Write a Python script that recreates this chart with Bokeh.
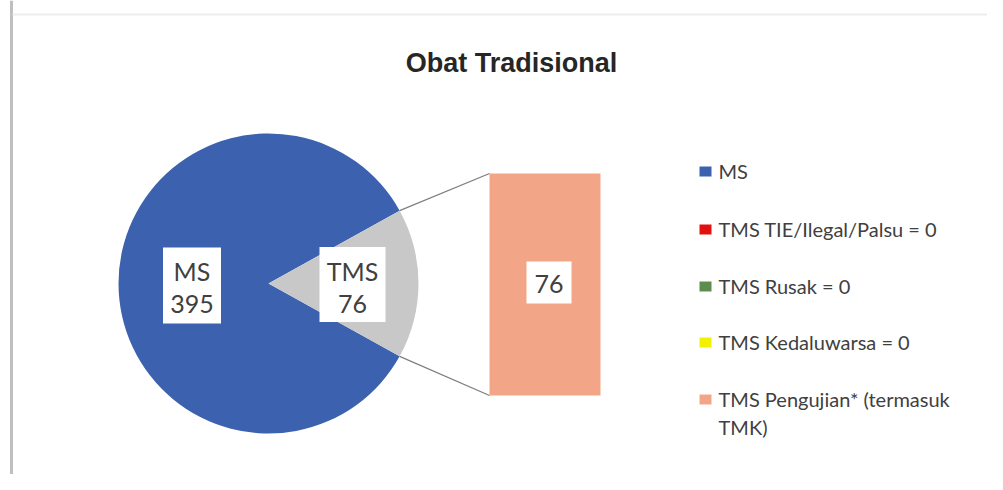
import math
from bokeh.plotting import figure
from bokeh.models import Range1d
from bokeh.core.properties import value
from bokeh.embed import file_html
from bokeh.resources import INLINE

# ---- data ----
title_text = "Obat Tradisional"
pie_labels = ["MS", "TMS"]
pie_values = [395, 76]
bar_labels = ["TMS TIE/Ilegal/Palsu", "TMS Rusak", "TMS Kedaluwarsa", "TMS Pengujian* (termasuk TMK)"]
bar_values = [0, 0, 0, 76]
legend_labels = ["MS", "TMS TIE/Ilegal/Palsu = 0", "TMS Rusak = 0", "TMS Kedaluwarsa = 0",
                 "TMS Pengujian* (termasuk\nTMK)"]

# ---- style ----
BLUE = "#3C62AF"
GREY = "#C8C8C8"
RED = "#E31010"
GREEN = "#5E8C4E"
YELLOW = "#F2F200"
SALMON = "#F2A687"
pie_colors = [BLUE, GREY]
bar_colors = [RED, GREEN, YELLOW, SALMON]
legend_colors = [BLUE, RED, GREEN, YELLOW, SALMON]
FONT = value("Lato")
TXT = "#404040"

W, H = 987, 474
p = figure(width=W, height=H, x_range=Range1d(0, W), y_range=Range1d(H, 0),
           output_backend="svg", toolbar_location=None, min_border=0,
           x_axis_location=None, y_axis_location=None)
p.grid.visible = False
p.outline_line_color = None
p.background_fill_color = "white"
p.border_fill_color = "white"

# frame edges of the original picture
p.segment(x0=[11], y0=[0], x1=[11], y1=[H], line_color="#bfbfbf", line_width=3)
p.segment(x0=[12], y0=[14], x1=[W], y1=[14], line_color="#ededed", line_width=2)

# title
p.text(x=[511], y=[62], text=[title_text], text_font=value("Liberation Sans"),
       text_font_style="bold", text_font_size="27px", text_align="center",
       text_baseline="middle", text_color="#262626")

# ---- pie ----
cx, cy, r = 268, 283, 150
total = sum(pie_values)
half = math.pi * pie_values[1] / total
starts = [half, -half]
ends = [2 * math.pi - half, half]
p.wedge(x=[cx, cx], y=[cy, cy], radius=r, start_angle=starts, end_angle=ends,
        fill_color=pie_colors, line_color=None)

# ---- bar of pie ----
bx0, bx1, btop, bbot = 489, 600, 173, 395
scale = (bbot - btop) / sum(bar_values)
cum = 0
tops, bots = [], []
for v in bar_values:
    bots.append(bbot - cum * scale)
    cum += v
    tops.append(bbot - cum * scale)
p.quad(left=bx0, right=bx1, top=tops, bottom=bots, fill_color=bar_colors, line_color=None)

# connector lines
ex = cx + r * math.cos(half)
p.segment(x0=[ex, ex], y0=[cy - r * math.sin(half), cy + r * math.sin(half)],
          x1=[bx0, bx0], y1=[btop, bbot], line_color="#7f7f7f", line_width=1.3)

# ---- data labels ----
lab_x = [cx - 0.51 * r, cx + 0.56 * r]
p.rect(x=lab_x, y=[cy + 2, cy + 1], width=[58, 66], height=[76, 75],
       fill_color="white", line_color=None)
p.text(x=lab_x, y=[cy - 13, cy - 13], text=pie_labels, text_font=FONT, text_font_size="25px",
       text_align="center", text_baseline="middle", text_color=TXT)
p.text(x=lab_x, y=[cy + 20, cy + 20], text=[str(v) for v in pie_values], text_font=FONT,
       text_font_size="25px", text_align="center", text_baseline="middle", text_color=TXT)

seg_mid = [(t + b) / 2 for t, b in zip(tops, bots)]
bar_lx = (bx0 + bx1) / 2 + 4
for v, m in zip(bar_values, seg_mid):
    if v > 0:
        p.rect(x=[bar_lx], y=[m - 2], width=45, height=42, fill_color="white", line_color=None)
        p.text(x=[bar_lx], y=[m - 1], text=[str(v)], text_font=FONT, text_font_size="25px",
               text_align="center", text_baseline="middle", text_color=TXT)

# ---- legend ----
leg_y = [170, 228, 285, 341, 398]
mx, tx = 705, 718
p.rect(x=[mx] * len(legend_colors), y=[y + 1 for y in leg_y], width=12, height=10,
       fill_color=legend_colors, line_color=None)
for lab, y in zip(legend_labels, leg_y):
    for i, line in enumerate(lab.split("\n")):
        p.text(x=[tx], y=[y + i * 28], text=[line], text_font=FONT, text_font_size="20px",
               text_align="left", text_baseline="middle", text_color=TXT)

open("out.html", "w").write(file_html(p, INLINE))
